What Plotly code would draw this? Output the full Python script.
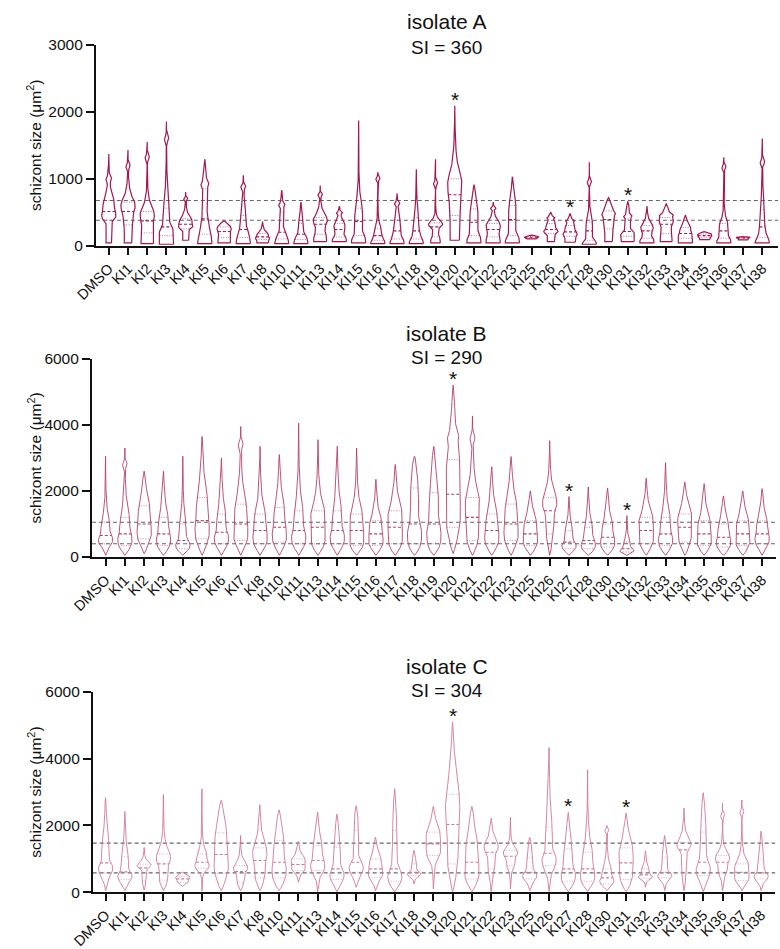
import numpy as np
import plotly.graph_objects as go

categories = ["DMSO", "KI1", "KI2", "KI3", "KI4", "KI5", "KI6", "KI7", "KI8", "KI10",
              "KI11", "KI13", "KI14", "KI15", "KI16", "KI17", "KI18", "KI19", "KI20",
              "KI21", "KI22", "KI23", "KI25", "KI26", "KI27", "KI28", "KI30", "KI31",
              "KI32", "KI33", "KI34", "KI35", "KI36", "KI37", "KI38"]

# ---------------- isolate A (schizont size, um^2) ----------------
a_min = [40, 40, 30, 20, 80, 30, 40, 30, 40, 30, 30, 60, 60, 40, 30, 30, 30, 40, 80,
         40, 40, 40, 100, 60, 50, 20, 60, 60, 40, 60, 40, 90, 40, 85, 40]
a_q1 = [380, 310, 190, 150, 250, 170, 120, 120, 90, 100, 90, 170, 130, 150, 80, 100, 100, 130, 450,
        150, 130, 150, 115, 180, 140, 80, 250, 140, 110, 180, 110, 125, 110, 100, 120]
a_med = [510, 510, 370, 280, 320, 400, 210, 240, 130, 200, 170, 320, 240, 360, 150, 220, 220, 280, 760,
         350, 240, 390, 125, 240, 205, 220, 390, 210, 220, 320, 180, 150, 220, 115, 280]
a_q3 = [675, 650, 510, 560, 400, 850, 280, 450, 180, 500, 330, 420, 330, 560, 250, 380, 420, 340, 1000,
        550, 330, 600, 135, 330, 300, 350, 520, 400, 300, 420, 270, 175, 330, 125, 540]
a_max = [1370, 1430, 1550, 1855, 800, 1290, 370, 1050, 360, 830, 650, 900, 590, 1870, 1100, 780, 1140, 1290, 2090,
         910, 650, 1030, 160, 500, 480, 1245, 720, 660, 590, 625, 455, 210, 1320, 140, 1600]
a_bump = [1000, 1190, 1320, 1600, 700, 920, 0, 880, 0, 610, 0, 760, 490, 0, 1000, 630, 0, 930, 0,
          0, 560, 0, 0, 415, 370, 950, 470, 440, 0, 460, 0, 0, 1170, 0, 1250]

# ---------------- isolate B ----------------
b_min = [50, 50, 100, 50, 50, 50, 50, 50, 50, 50, 50, 50, 50, 50, 50, 50, 50, 50, 100,
         50, 50, 50, 50, 50, 50, 50, 50, 50, 50, 50, 50, 50, 50, 50, 50]
b_q1 = [400, 350, 550, 350, 250, 550, 400, 500, 400, 450, 400, 400, 400, 350, 350, 400, 400, 400, 900,
        500, 400, 500, 350, 700, 250, 250, 300, 150, 400, 350, 450, 350, 300, 350, 400]
b_med = [650, 700, 1000, 700, 500, 1100, 750, 1000, 800, 900, 800, 900, 800, 800, 700, 900, 1000, 1000, 1900,
         1200, 800, 1000, 700, 1400, 450, 500, 600, 250, 800, 700, 900, 700, 600, 700, 700]
b_q3 = [1050, 1200, 1550, 1200, 1000, 1800, 1300, 1600, 1300, 1500, 1400, 1400, 1400, 1300, 1100, 1400, 2090, 1950, 2950,
        1800, 1300, 1600, 1100, 1800, 800, 900, 1000, 450, 1200, 1200, 1300, 1100, 1000, 1100, 1100]
b_max = [3050, 3300, 2600, 2600, 3050, 3650, 3000, 3950, 3350, 3100, 4050, 3550, 3350, 3300, 2350, 2800, 3050, 3350, 5200,
         4270, 2730, 3040, 2000, 3520, 1830, 2120, 2090, 1250, 2390, 2860, 2270, 2220, 1850, 2000, 2070]
b_bump = [0, 2800, 0, 0, 0, 0, 0, 3400, 0, 0, 0, 0, 0, 0, 0, 0, 0, 0, 3650,
          3600, 0, 0, 0, 0, 0, 0, 0, 0, 0, 0, 0, 0, 0, 0, 0]

# ---------------- isolate C ----------------
c_min = [50, 50, 60, 50, 170, 30, 50, 50, 50, 50, 300, 20, 20, 150, 50, 10, 250, 100, 20,
         20, 20, 100, 50, 20, 20, 20, 50, 20, 150, 50, 50, 20, 50, 50, 50]
c_q1 = [580, 380, 350, 360, 300, 720, 560, 300, 430, 430, 650, 650, 380, 600, 450, 330, 500, 1100, 850,
        400, 700, 800, 400, 800, 330, 330, 250, 380, 420, 430, 600, 500, 600, 350, 400]
c_med = [880, 610, 730, 850, 400, 900, 1130, 620, 950, 900, 830, 950, 700, 900, 700, 700, 600, 1450, 2030,
         900, 1200, 1080, 600, 1170, 700, 700, 430, 880, 520, 600, 1270, 900, 900, 600, 580]
c_q3 = [1470, 1060, 840, 1150, 480, 1150, 1780, 800, 1330, 1550, 1000, 1400, 1350, 1850, 1000, 1850, 850, 1800, 2930,
        1500, 1450, 1250, 1030, 1950, 1300, 1200, 700, 1330, 700, 1050, 1500, 1800, 1100, 850, 1000]
c_max = [2830, 2420, 1340, 2930, 610, 3100, 2760, 1700, 2620, 2470, 1520, 2400, 2340, 2590, 1650, 3100, 1260, 2570, 5090,
         2570, 2220, 2245, 1650, 4330, 2390, 3660, 2000, 2370, 1245, 1700, 2520, 2980, 2665, 2760, 1830]
c_bump = [0, 0, 0, 0, 0, 0, 0, 0, 0, 0, 0, 0, 0, 0, 0, 0, 0, 0, 0,
          0, 0, 0, 0, 0, 0, 0, 1850, 0, 0, 0, 0, 0, 2300, 2400, 0]

titles = ["isolate A", "isolate B", "isolate C"]
si_labels = ["SI = 360", "SI = 290", "SI = 304"]
starred = [["KI20", "KI27", "KI31"], ["KI20", "KI27", "KI31"], ["KI20", "KI27", "KI31"]]
y_ticks = [[0, 1000, 2000, 3000], [0, 2000, 4000, 6000], [0, 2000, 4000, 6000]]

W, H = 780, 949
colors = ["#A3184F", "#B5416A", "#D27896"]
outline_w = [1.2, 0.9, 0.9]
flat_bottom = [True, False, False]

# pixel geometry of each panel: (x_left, x_right, y_top, y_bottom, first cat px, spacing px)
panels_px = [(76, 778, 36.7, 241.7, 89.3, 19.78),
             (72, 776, 357.3, 559.8, 86.0, 19.87),
             (72.7, 775, 697.5, 902.3, 86.0, 19.84)]


def profile(mn, q1, md, q3, mx, bump, flat):
    span = max(mx - mn, 1e-6)
    n = 500
    h = span / n
    sig = max(0.08 * (q3 - q1), 0.012 * span, 2 * h)
    pad = int(np.ceil(4 * sig / h))
    k = np.arange(-pad, n + pad + 1)
    y = mn + h * k
    d = np.zeros_like(y)
    s_lo = max(md - q1, h)
    s_hi = max(q3 - md, h)
    m = (y >= q1) & (y < md)
    d[m] = 0.25 / s_lo
    m = (y >= md) & (y < q3)
    d[m] = 0.25 / s_hi
    m = (y >= q3) & (y <= mx)
    d[m] = 0.25 / s_hi * np.exp(-(y[m] - q3) / s_hi)
    m = (y >= mn) & (y < q1)
    if flat:
        d[m] = 0.25 / max(q1 - mn, h)
    else:
        d[m] = 0.25 / s_lo * np.exp(-(q1 - y[m]) / (0.6 * s_lo))
    if flat:
        below = y < mn
        d[below] = np.interp(2 * mn - y[below], y, d)
    ks = np.arange(-pad, pad + 1) * h
    ker = np.exp(-0.5 * (ks / sig) ** 2)
    ker /= ker.sum()
    ds = np.convolve(d, ker, mode="same")
    inside = (y >= mn) & (y <= mx)
    yy = y[inside]
    dd = ds[inside]
    if bump:
        dd = dd + 0.3 * dd.max() * np.exp(-0.5 * ((yy - bump) / (0.022 * span)) ** 2)
    dd = dd / dd.max()
    # pointed ends as in the reference drawing
    dd = dd * np.clip((mx - yy) / (0.05 * span), 0, 1) ** 0.6
    if not flat:
        dd = dd * np.clip((yy - mn) / (0.05 * span), 0, 1) ** 0.6
    return yy, dd


fig = go.Figure()
datasets = [(a_min, a_q1, a_med, a_q3, a_max, a_bump),
            (b_min, b_q1, b_med, b_q3, b_max, b_bump),
            (c_min, c_q1, c_med, c_q3, c_max, c_bump)]
halfw = 0.37
annotations = []
shapes = []

for p, (mins, q1s, meds, q3s, maxs, bumps) in enumerate(datasets):
    xs_o, ys_o, xs_m, ys_m, xs_q, ys_q = [], [], [], [], [], []
    for i in range(len(categories)):
        yy, dd = profile(mins[i], q1s[i], meds[i], q3s[i], maxs[i], bumps[i], flat_bottom[p])
        w = halfw * dd
        xo = np.concatenate([i + w, (i - w)[::-1], [i + w[0]]])
        yo = np.concatenate([yy, yy[::-1], [yy[0]]])
        xs_o += list(xo) + [None]
        ys_o += list(yo) + [None]
        wm = np.interp(meds[i], yy, w)
        xs_m += [i - wm, i + wm, None]
        ys_m += [meds[i], meds[i], None]
        for qv in (q1s[i], q3s[i]):
            wq = np.interp(qv, yy, w)
            xs_q += [i - wq, i + wq, None]
            ys_q += [qv, qv, None]
    ax = "" if p == 0 else str(p + 1)
    col = colors[p]
    fig.add_trace(go.Scatter(x=xs_o, y=ys_o, mode="lines", xaxis="x" + ax, yaxis="y" + ax,
                             line=dict(color=col, width=outline_w[p]), hoverinfo="skip", showlegend=False))
    fig.add_trace(go.Scatter(x=xs_m, y=ys_m, mode="lines", xaxis="x" + ax, yaxis="y" + ax,
                             line=dict(color=col, width=1.1, dash="3px,2px"), hoverinfo="skip", showlegend=False))
    fig.add_trace(go.Scatter(x=xs_q, y=ys_q, mode="lines", xaxis="x" + ax, yaxis="y" + ax, opacity=0.6,
                             line=dict(color=col, width=1.0, dash="1px,1.5px"), hoverinfo="skip", showlegend=False))

    xl, xr, yt, yb, c0, sp = panels_px[p]
    r0 = -(c0 - xl) / sp
    r1 = r0 + (xr - xl) / sp
    lw = 2 if p < 2 else 1.5
    xa = dict(domain=[xl / W, xr / W], range=[r0, r1], anchor="y" + ax,
              tickmode="array", tickvals=list(range(len(categories))), ticktext=categories,
              tickangle=-45, ticks="outside", ticklen=7, tickwidth=lw,
              showline=True, linewidth=lw, linecolor="#111", tickcolor="#111",
              tickfont=dict(size=14.5, color="#111"), showgrid=False, zeroline=False)
    ya = dict(domain=[1 - yb / H, 1 - yt / H], range=[0, y_ticks[p][-1]], anchor="x" + ax,
              tickmode="array", tickvals=y_ticks[p], ticks="outside", ticklen=8,
              tickwidth=lw, showline=True, linewidth=lw,
              linecolor="#111", tickcolor="#111", tickfont=dict(size=15.5, color="#111"),
              showgrid=False, zeroline=False)
    fig.layout["xaxis" + ax] = xa
    fig.layout["yaxis" + ax] = ya

    # DMSO interquartile reference lines
    for qv in (q1s[0], q3s[0]):
        shapes.append(dict(type="line", xref="x" + ax + " domain", yref="y" + ax,
                           x0=0, x1=1, y0=qv, y1=qv, line=dict(color="#666", width=1.1, dash="4px,3px"),
                           layer="below"))
    # significance stars
    for cat in starred[p]:
        i = categories.index(cat)
        annotations.append(dict(x=i, y=maxs[i], xref="x" + ax, yref="y" + ax, text="*",
                                showarrow=False, yanchor="bottom", yshift=-7,
                                font=dict(size=21, color="#111")))
    # titles
    annotations.append(dict(x=437 / W, y=1 - (yt - 24 if p == 0 else yt - 26) / H, xref="paper", yref="paper",
                            text=titles[p], showarrow=False, font=dict(size=21, color="#111"),
                            yanchor="middle"))
    annotations.append(dict(x=437 / W, y=1 - (yt + 3 if p == 0 else yt - 1) / H, xref="paper", yref="paper",
                            text=si_labels[p], showarrow=False, font=dict(size=19, color="#111"),
                            yanchor="middle"))
    # y title
    annotations.append(dict(x=13 / W, y=1 - ((yt + yb) / 2) / H, xref="paper", yref="paper",
                            text="schizont size (μm<sup>2</sup>)", textangle=-90, showarrow=False,
                            font=dict(size=15.5, color="#111"), xanchor="center", yanchor="middle"))

fig.update_layout(width=W, height=H, margin=dict(l=0, r=0, t=0, b=0),
                  paper_bgcolor="white", plot_bgcolor="white",
                  font=dict(family="Liberation Sans, Arial, sans-serif"),
                  annotations=annotations, shapes=shapes)
fig.write_html("out.html")
